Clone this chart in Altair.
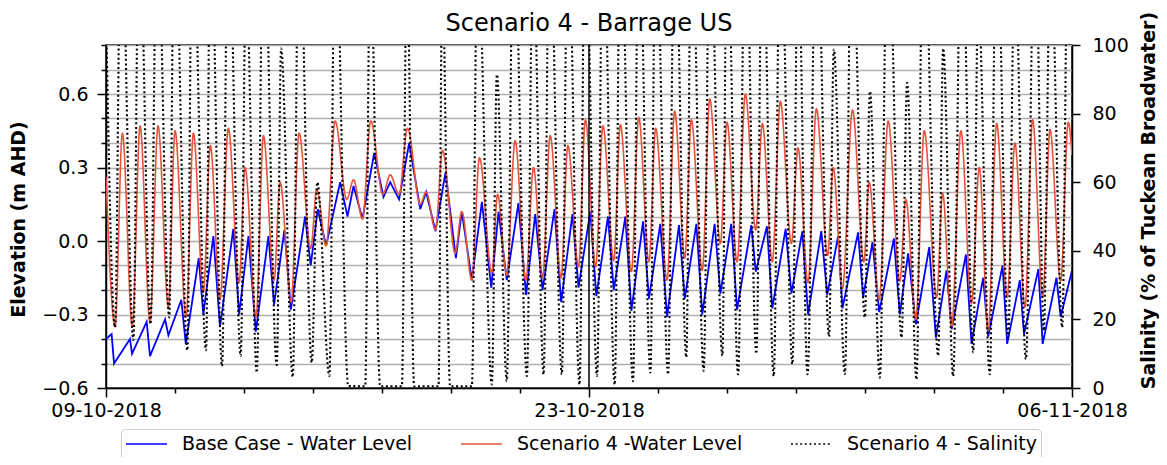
import altair as alt
import pandas as pd

TITLE = "Scenario 4 - Barrage US"
SERIES = ["Base Case - Water Level", "Scenario 4 -Water Level", "Scenario 4 - Salinity"]
COLORS = ["#0000ff", "#e5533d", "#000000"]
DASHES = [[1, 0], [1, 0], [2, 2.6]]

# x axis: hours since 09-10-2018 00:00
x_major_hours = [0, 336, 672]
x_major_labels = ["09-10-2018", "23-10-2018", "06-11-2018"]
x_day_hours = [0, 24, 48, 72, 96, 120, 144, 168, 192, 216, 240, 264, 288, 312, 336,
               360, 384, 408, 432, 456, 480, 504, 528, 552, 576, 600, 624, 648, 672]
elev_ticks = [-0.6, -0.5, -0.4, -0.3, -0.2, -0.1, 0.0, 0.1, 0.2, 0.3, 0.4, 0.5, 0.6, 0.7, 0.8]
sal_ticks = [0, 20, 40, 60, 80, 100]
vline_hours = [336]

# Base case water level (m AHD) - turning points
base_hours = [0, 3.9, 5.6, 16.7, 18.1, 28.3, 30.6, 41.1, 43.4, 52.4, 55.5, 64.5, 67.7, 74.7, 79.3,
              88.6, 92.6, 99.1, 104.2, 113.0, 116.9, 124.1, 128.6, 138.5, 142.4, 147.3, 153.1,
              162.9, 168.0, 172.2, 178.4, 186.6, 193.0, 197.7, 203.9, 210.9, 218.6, 222.7, 229.2,
              236.2, 243.4, 247.5, 254.5, 261.5, 268.0, 273.1, 278.8, 286.9, 292.2, 298.6, 303.7,
              312.0, 316.6, 324.5, 328.7, 336.9, 341.1, 349.2, 353.2, 361.3, 365.5, 373.6, 377.7,
              385.6, 390.3, 398.6, 402.6, 410.7, 414.8, 423.4, 427.4, 435.0, 439.0, 448.9, 452.0,
              459.8, 463.5, 472.8, 476.8, 484.4, 488.4, 497.6, 501.7, 509.3, 512.3, 523.2, 526.7,
              533.2, 537.9, 548.1, 552.2, 558.0, 563.4, 572.7, 577.3, 584.7, 588.3, 598.2, 602.1,
              610.2, 613.7, 623.7, 626.9, 635.7, 638.6, 648.6, 651.6, 661.2, 664.1, 672.0]
base_elev = [-0.40, -0.38, -0.50, -0.40, -0.46, -0.33, -0.47, -0.32, -0.385, -0.24, -0.42, -0.07, -0.30, 0.02, -0.35,
             0.05, -0.30, 0.02, -0.37, 0.02, -0.26, 0.045, -0.28, 0.10, -0.10, 0.13, -0.02,
             0.24, 0.10, 0.225, 0.09, 0.36, 0.18, 0.24, 0.17, 0.40, 0.13, 0.20, 0.04,
             0.28, -0.07, 0.12, -0.16, 0.16, -0.19, 0.12, -0.16, 0.155, -0.22, 0.11, -0.20,
             0.13, -0.25, 0.11, -0.19, 0.12, -0.225, 0.10, -0.20, 0.10, -0.285, 0.08, -0.235,
             0.07, -0.31, 0.065, -0.235, 0.07, -0.30, 0.07, -0.215, 0.07, -0.28, 0.065, -0.125,
             0.06, -0.275, 0.05, -0.215, 0.04, -0.30, 0.04, -0.22, 0.02, -0.275, 0.035, -0.23,
             -0.005, -0.29, 0.01, -0.30, -0.05, -0.34, -0.025, -0.395, -0.12, -0.36, -0.055, -0.42,
             -0.15, -0.39, -0.10, -0.42, -0.16, -0.38, -0.115, -0.42, -0.15, -0.31, -0.12]

# Scenario 4 water level (m AHD)
scen_hours = [0, 6.3, 11.4, 18.3, 23.7, 30.6, 36.2, 43.4, 48.0, 55.7, 60.8, 67.7, 72.6, 79.3, 85.1,
              92.6, 96.7, 104.4, 109.5, 116.9, 121.1, 128.8, 134.3, 142.4, 146.6, 153.1, 159.4,
              167.5, 172.2, 178.4, 184.2, 192.6, 197.7, 203.9, 209.7, 218.6, 222.7, 229.2, 234.1,
              242.9, 247.5, 254.5, 259.8, 268.4, 272.4, 278.8, 284.6, 292.1, 297.4, 303.7, 309.0,
              316.6, 321.3, 328.7, 333.5, 340.6, 345.7, 353.2, 357.8, 365.5, 370.6, 377.7, 382.4,
              390.3, 395.6, 402.6, 407.2, 414.8, 420.0, 427.4, 432.0, 439.0, 444.8, 452.0, 456.6,
              463.5, 469.1, 476.8, 481.4, 488.4, 494.2, 502.0, 505.9, 512.3, 519.3, 527.2, 530.9,
              537.9, 544.1, 552.2, 556.4, 563.4, 569.2, 577.8, 582.0, 588.3, 594.7, 602.1, 607.5,
              613.7, 619.6, 626.9, 632.3, 639.3, 644.6, 651.6, 656.7, 664.1, 669.4, 672.0]
scen_elev = [0.26, -0.35, 0.44, -0.35, 0.47, -0.33, 0.47, -0.27, 0.45, -0.31, 0.44, -0.21, 0.39, -0.24, 0.46,
             -0.17, 0.30, -0.31, 0.43, -0.16, 0.24, -0.25, 0.44, -0.03, 0.21, -0.02, 0.49,
             0.17, 0.25, 0.09, 0.49, 0.19, 0.27, 0.19, 0.46, 0.15, 0.20, 0.045, 0.37,
             -0.05, 0.12, -0.16, 0.34, -0.13, 0.19, -0.14, 0.41, -0.16, 0.30, -0.15, 0.43,
             -0.15, 0.39, -0.105, 0.495, -0.105, 0.47, -0.08, 0.475, -0.125, 0.505, -0.085, 0.46,
             -0.16, 0.53, -0.07, 0.495, -0.12, 0.58, -0.01, 0.485, -0.085, 0.60, 0.045, 0.48,
             -0.085, 0.57, -0.01, 0.38, -0.17, 0.54, -0.06, 0.30, -0.195, 0.535, -0.085, 0.24,
             -0.24, 0.49, -0.165, 0.17, -0.32, 0.45, -0.23, 0.195, -0.35, 0.45, -0.255, 0.30,
             -0.365, 0.48, -0.23, 0.40, -0.27, 0.495, -0.23, 0.455, -0.165, 0.485, 0.35]

# Scenario 4 salinity (% of Tuckean Broadwater); values above 100 run off the top
sal_hours = [0, 6.3, 10.4, 19.0, 23.0, 31.0, 35.5, 44.0, 47.6, 56.6, 60.0, 69.6, 72.6, 80.7, 85.0,
             93.7, 97.4, 104.9, 109.5, 118.8, 121.8, 129.9, 134.3, 143.1, 147.0, 155.4, 159.4,
             168.5, 180.3, 183.8, 190.7, 205.8, 209.3, 214.4, 231.3, 233.9, 239.4, 254.5, 258.4,
             268.4, 271.9, 278.8, 283.5, 292.8, 297.0, 304.4, 308.5, 317.1, 321.3, 329.4, 333.3,
             341.6, 345.7, 353.9, 357.8, 366.6, 370.6, 378.7, 382.4, 391.0, 395.6, 403.7, 407.2,
             415.8, 420.0, 428.8, 432.0, 439.7, 444.8, 452.4, 456.6, 464.5, 469.1, 477.5, 481.4,
             488.0, 494.2, 503.0, 506.3, 514.0, 518.6, 527.9, 531.4, 538.3, 543.7, 553.4, 557.3,
             563.8, 568.5, 578.9, 582.4, 589.3, 595.1, 603.3, 606.7, 614.8, 619.5, 627.6, 632.2,
             639.9, 646.2, 652.4, 657.0, 665.2, 669.3, 672.0]
sal_values = [110, 17.7, 140, 14, 140, 18.6, 140, 20.6, 140, 11, 140, 11, 140, 6.4, 140,
              9.4, 120, 4.5, 140, 6.7, 99, 3.2, 140, 7.4, 60, 3.5, 140,
              0.6, 0.5, 130, 0.5, 0.5, 125, 0.5, 0.5, 120, 0.5, 0.5, 130,
              1, 91.4, 2, 140, 3.5, 130, 4, 140, 4, 140, 1, 140,
              3.5, 140, 1, 140, 2, 140, 4.5, 140, 4, 140, 9, 140,
              5, 140, 9.4, 140, 4, 140, 10, 140, 3.5, 140, 7, 130,
              4, 140, 15, 98.7, 4, 140, 20.6, 86.5, 3, 140, 14.7, 89,
              2.5, 140, 9.4, 99, 3.5, 140, 10.4, 115, 4, 140, 14.7, 125,
              8.4, 140, 16.7, 130, 17.7, 140, 130]

FONT = "DejaVu Sans"

base_df = pd.DataFrame({"hour": base_hours, "value": base_elev, "series": SERIES[0]})
scen_df = pd.DataFrame({"hour": scen_hours, "value": scen_elev, "series": SERIES[1]})
sal_df = pd.DataFrame({"hour": sal_hours, "value": sal_values, "series": SERIES[2]})
vline_df = pd.DataFrame({"hour": vline_hours})

label_expr = " : ".join(
    f"datum.value == {h} ? '{lab}'" for h, lab in zip(x_major_hours, x_major_labels)
) + " : ''"
major_test = "indexof([" + ",".join(str(h) for h in x_major_hours) + "], datum.value) >= 0"

x_enc = alt.X(
    "hour:Q",
    scale=alt.Scale(domain=[0, 672], nice=False, zero=False),
    axis=alt.Axis(
        values=x_day_hours, labelExpr=label_expr, title=None, grid=False,
        labelFlush=False, labelOverlap=False, labelBound=False,
        tickSize={"condition": {"test": major_test, "value": 9}, "value": 5},
        labelPadding=4,
    ),
)

legend = alt.Legend(
    orient="none", legendX=15, legendY=384, direction="horizontal", title=None,
    symbolType="stroke", symbolSize=1681, symbolStrokeWidth=1.6, clipHeight=22,
    labelFontSize=19, labelFont=FONT, labelColor="black", labelOffset=14,
    columnPadding=47, padding=4, strokeColor="#cccccc", fillColor="white",
    cornerRadius=4, labelLimit=400,
)
color_enc = alt.Color("series:N", scale=alt.Scale(domain=SERIES, range=COLORS), legend=legend)
dash_enc = alt.StrokeDash("series:N", scale=alt.Scale(domain=SERIES, range=DASHES), legend=legend)

elev_y = alt.Y(
    "value:Q",
    scale=alt.Scale(domain=[-0.6, 0.8], nice=False, zero=False),
    axis=alt.Axis(
        values=elev_ticks, title="Elevation (m AHD)", grid=True,
        gridColor="#b0b0b0", gridWidth=1.5,
        labelExpr="abs(round(datum.value*10) % 3) == 0 ? format(datum.value, '.1f') : ''",
        tickSize={"condition": {"test": "abs(round(datum.value*10) % 3) == 0", "value": 9}, "value": 5},
        labelPadding=9, labelOverlap=False, labelFlush=False,
        titleAngle=270, titleX=-88, titleY=174, titleAlign="center", titleBaseline="middle",
    ),
)

blue = alt.Chart(base_df).mark_line(strokeWidth=1.8, clip=True).encode(
    x=x_enc, y=elev_y, color=color_enc, strokeDash=dash_enc)
red = alt.Chart(scen_df).mark_line(strokeWidth=1.6, clip=True, interpolate="monotone").encode(
    x=x_enc, y=elev_y, color=color_enc, strokeDash=dash_enc)
vline = alt.Chart(vline_df).mark_rule(color="black", strokeWidth=1.5).encode(x=alt.X("hour:Q"))

sal = alt.Chart(sal_df).mark_line(strokeWidth=2.1, clip=True, interpolate="monotone").encode(
    x=x_enc,
    y=alt.Y(
        "value:Q",
        scale=alt.Scale(domain=[0, 100], nice=False, zero=False),
        axis=alt.Axis(
            orient="right", values=sal_ticks, title="Salinity (% of Tuckean Broadwater)",
            grid=False, tickSize=8, labelPadding=12, labelOverlap=False, labelFlush=False,
            titleAngle=270, titleX=76, titleY=155, titleAlign="center", titleBaseline="middle",
        ),
    ),
    color=color_enc, strokeDash=dash_enc,
)

chart = alt.layer(alt.layer(blue, red, vline), sal).resolve_scale(y="independent").properties(
    width=966, height=343,
    padding={"left": 98, "top": 37, "right": 87, "bottom": 69},
    autosize=alt.AutoSizeParams(type="none"),
    title=alt.TitleParams(TITLE, fontSize=24, font=FONT, fontWeight="normal", anchor="middle",
                          frame="group", offset=7, dy=32, color="black"),
).configure_view(stroke="black", strokeWidth=1.5).configure_axis(
    domainColor="black", domainWidth=1.5, tickColor="black", tickWidth=1.5,
    labelColor="black", labelFont=FONT, labelFontSize=19,
    titleFont=FONT, titleFontSize=19, titleFontWeight="bold", titleColor="black",
)

chart.save("out.html", embed_options={"renderer": "svg", "actions": False})
